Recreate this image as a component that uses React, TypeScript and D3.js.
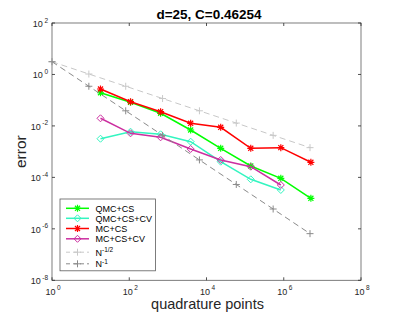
import * as d3 from "d3";

// sample sizes
const sampleN = [18, 108, 648, 3888, 23328, 139968, 839808, 5038848];
const refN = [1, 9, 81, 729, 6561, 59049, 531441, 4782969];

// errors
const qmcCs = [0.195, 0.0828, 0.031, 0.00694, 0.00135, 2.77e-4, 9.2e-5, 1.54e-5];
const qmcCsCv = [0.00318, 0.00596, 0.00472, 0.00244, 4.07e-4, 8.4e-5, 3.24e-5];
const mcCs = [0.272, 0.0873, 0.0357, 0.01265, 0.00884, 0.00135, 0.00143, 3.86e-4];
const mcCsCv = [0.0198, 0.00516, 0.00361, 0.00127, 4.74e-4, 2.6e-4, 5.06e-5];
const halfRef = [3.13, 1.04, 0.348, 0.116, 0.0387, 0.0129, 0.0043, 0.00143];
const oneRef = [3.13, 0.348, 0.0387, 0.0043, 4.77e-4, 5.3e-5, 5.9e-6, 6.5e-7];

const xTickExp = [0, 2, 4, 6, 8];
const yTickExp = [2, 0, -2, -4, -6, -8];

type Series = {
  label: string;
  sup?: string;
  xs: number[];
  ys: number[];
  color: string;
  marker: "star" | "diamond" | "plus";
  dashed: boolean;
};

const series: Series[] = [
  { label: "QMC+CS", xs: sampleN, ys: qmcCs, color: "#00ff00", marker: "star", dashed: false },
  { label: "QMC+CS+CV", xs: sampleN, ys: qmcCsCv, color: "#33f5c0", marker: "diamond", dashed: false },
  { label: "MC+CS", xs: sampleN, ys: mcCs, color: "#ff0000", marker: "star", dashed: false },
  { label: "MC+CS+CV", xs: sampleN, ys: mcCsCv, color: "#cc2fa0", marker: "diamond", dashed: false },
  { label: "N", sup: "-1/2", xs: refN, ys: halfRef, color: "#c8c8c8", marker: "plus", dashed: true },
  { label: "N", sup: "-1", xs: refN, ys: oneRef, color: "#8a8a8a", marker: "plus", dashed: true },
];

const W = 399;
const H = 315;
const left = 52;
const right = 361;
const top = 23;
const bottom = 280.3;

function Marker({ kind, x, y, color }: { kind: string; x: number; y: number; color: string }) {
  const r = 3.5;
  if (kind === "diamond") {
    return (
      <path
        d={`M${x},${y - r}L${x + r},${y}L${x},${y + r}L${x - r},${y}Z`}
        fill="none"
        stroke={color}
        strokeWidth={1}
      />
    );
  }
  if (kind === "plus") {
    return (
      <path
        d={`M${x - r},${y}H${x + r}M${x},${y - r}V${y + r}`}
        stroke={color}
        strokeWidth={1}
      />
    );
  }
  const d = r * 0.72;
  return (
    <path
      d={`M${x - r},${y}H${x + r}M${x},${y - r}V${y + r}M${x - d},${y - d}L${x + d},${y + d}M${x - d},${y + d}L${x + d},${y - d}`}
      stroke={color}
      strokeWidth={1.2}
    />
  );
}

export default function App() {
  const x = d3.scaleLog().domain([1, 1e8]).range([left, right]);
  const y = d3.scaleLog().domain([1e-8, 1e2]).range([bottom, top]);
  const line = d3
    .line<[number, number]>()
    .x((d) => x(d[0]))
    .y((d) => y(d[1]));

  const font = "'Liberation Sans', Arial, sans-serif";
  const axisColor = "#262626";
  const tickLen = 3;

  const legX = 60;
  const legY = 199;
  const legRows = [208.3, 218.3, 228.5, 238.8, 252.2, 263.8];

  return (
    <svg
      width={W}
      height={H}
      style={{ position: "absolute", left: 0, top: 0, background: "#fff" }}
      fontFamily={font}
    >
      <rect x={0} y={0} width={W} height={H} fill="#fff" />

      {/* box and ticks */}
      <rect
        x={left}
        y={top}
        width={right - left}
        height={bottom - top}
        fill="none"
        stroke={axisColor}
        strokeOpacity={0.75}
        strokeWidth={0.8}
      />
      {xTickExp.map((e) => {
        const px = x(Math.pow(10, e));
        return (
          <g key={"xt" + e}>
            <line x1={px} x2={px} y1={bottom} y2={bottom - tickLen} stroke={axisColor} strokeWidth={0.8} />
            <line x1={px} x2={px} y1={top} y2={top + tickLen} stroke={axisColor} strokeWidth={0.8} />
            <text x={px + 1} y={294.5} fontSize={9} fill={axisColor} textAnchor="middle">
              10
              <tspan dx={1.5} dy={-4.5} fontSize={6.5}>
                {e}
              </tspan>
            </text>
          </g>
        );
      })}
      {yTickExp.map((e) => {
        const py = y(Math.pow(10, e));
        return (
          <g key={"yt" + e}>
            <line x1={left} x2={left + tickLen} y1={py} y2={py} stroke={axisColor} strokeWidth={0.8} />
            <line x1={right} x2={right - tickLen} y1={py} y2={py} stroke={axisColor} strokeWidth={0.8} />
            <text x={48} y={py + 4} fontSize={9} fill={axisColor} textAnchor="end">
              10
              <tspan dx={1.5} dy={-4.5} fontSize={6.5}>
                {e}
              </tspan>
            </text>
          </g>
        );
      })}

      {/* series */}
      {series.map((s) => {
        const pts = s.xs.slice(0, s.ys.length).map((v, i) => [v, s.ys[i]] as [number, number]);
        return (
          <g key={s.label + (s.sup || "")}>
            <path
              d={line(pts) || ""}
              fill="none"
              stroke={s.color}
              strokeWidth={s.dashed ? 1 : 1.5}
              strokeDasharray={s.dashed ? "6,4" : undefined}
            />
            {pts.map((p, i) => (
              <Marker key={i} kind={s.marker} x={x(p[0])} y={y(p[1])} color={s.color} />
            ))}
          </g>
        );
      })}

      {/* legend */}
      <rect
        x={legX}
        y={legY}
        width={95.5}
        height={71.8}
        fill="#fff"
        stroke={axisColor}
        strokeOpacity={0.75}
        strokeWidth={0.8}
      />
      {series.map((s, i) => {
        const ry = legRows[i];
        return (
          <g key={"leg" + i}>
            <line
              x1={66}
              x2={89}
              y1={ry}
              y2={ry}
              stroke={s.color}
              strokeWidth={s.dashed ? 1 : 1.5}
              strokeDasharray={s.dashed ? "4,3" : undefined}
            />
            <Marker kind={s.marker} x={77.5} y={ry} color={s.color} />
            <text x={95.5} y={ry + 3.3} fontSize={9} fill="#000">
              {s.label}
              {s.sup && (
                <tspan dy={-3.5} fontSize={6.5}>
                  {s.sup}
                </tspan>
              )}
            </text>
          </g>
        );
      })}

      {/* labels */}
      <text x={209} y={19} fontSize={13.5} fontWeight="bold" textAnchor="middle" fill="#000">
        d=25, C=0.46254
      </text>
      <text x={207.5} y={309} fontSize={14.5} textAnchor="middle" fill={axisColor}>
        quadrature points
      </text>
      <text
        transform={`translate(26,${(top + bottom) / 2}) rotate(-90)`}
        fontSize={15.5}
        textAnchor="middle"
        fill={axisColor}
      >
        error
      </text>
    </svg>
  );
}
